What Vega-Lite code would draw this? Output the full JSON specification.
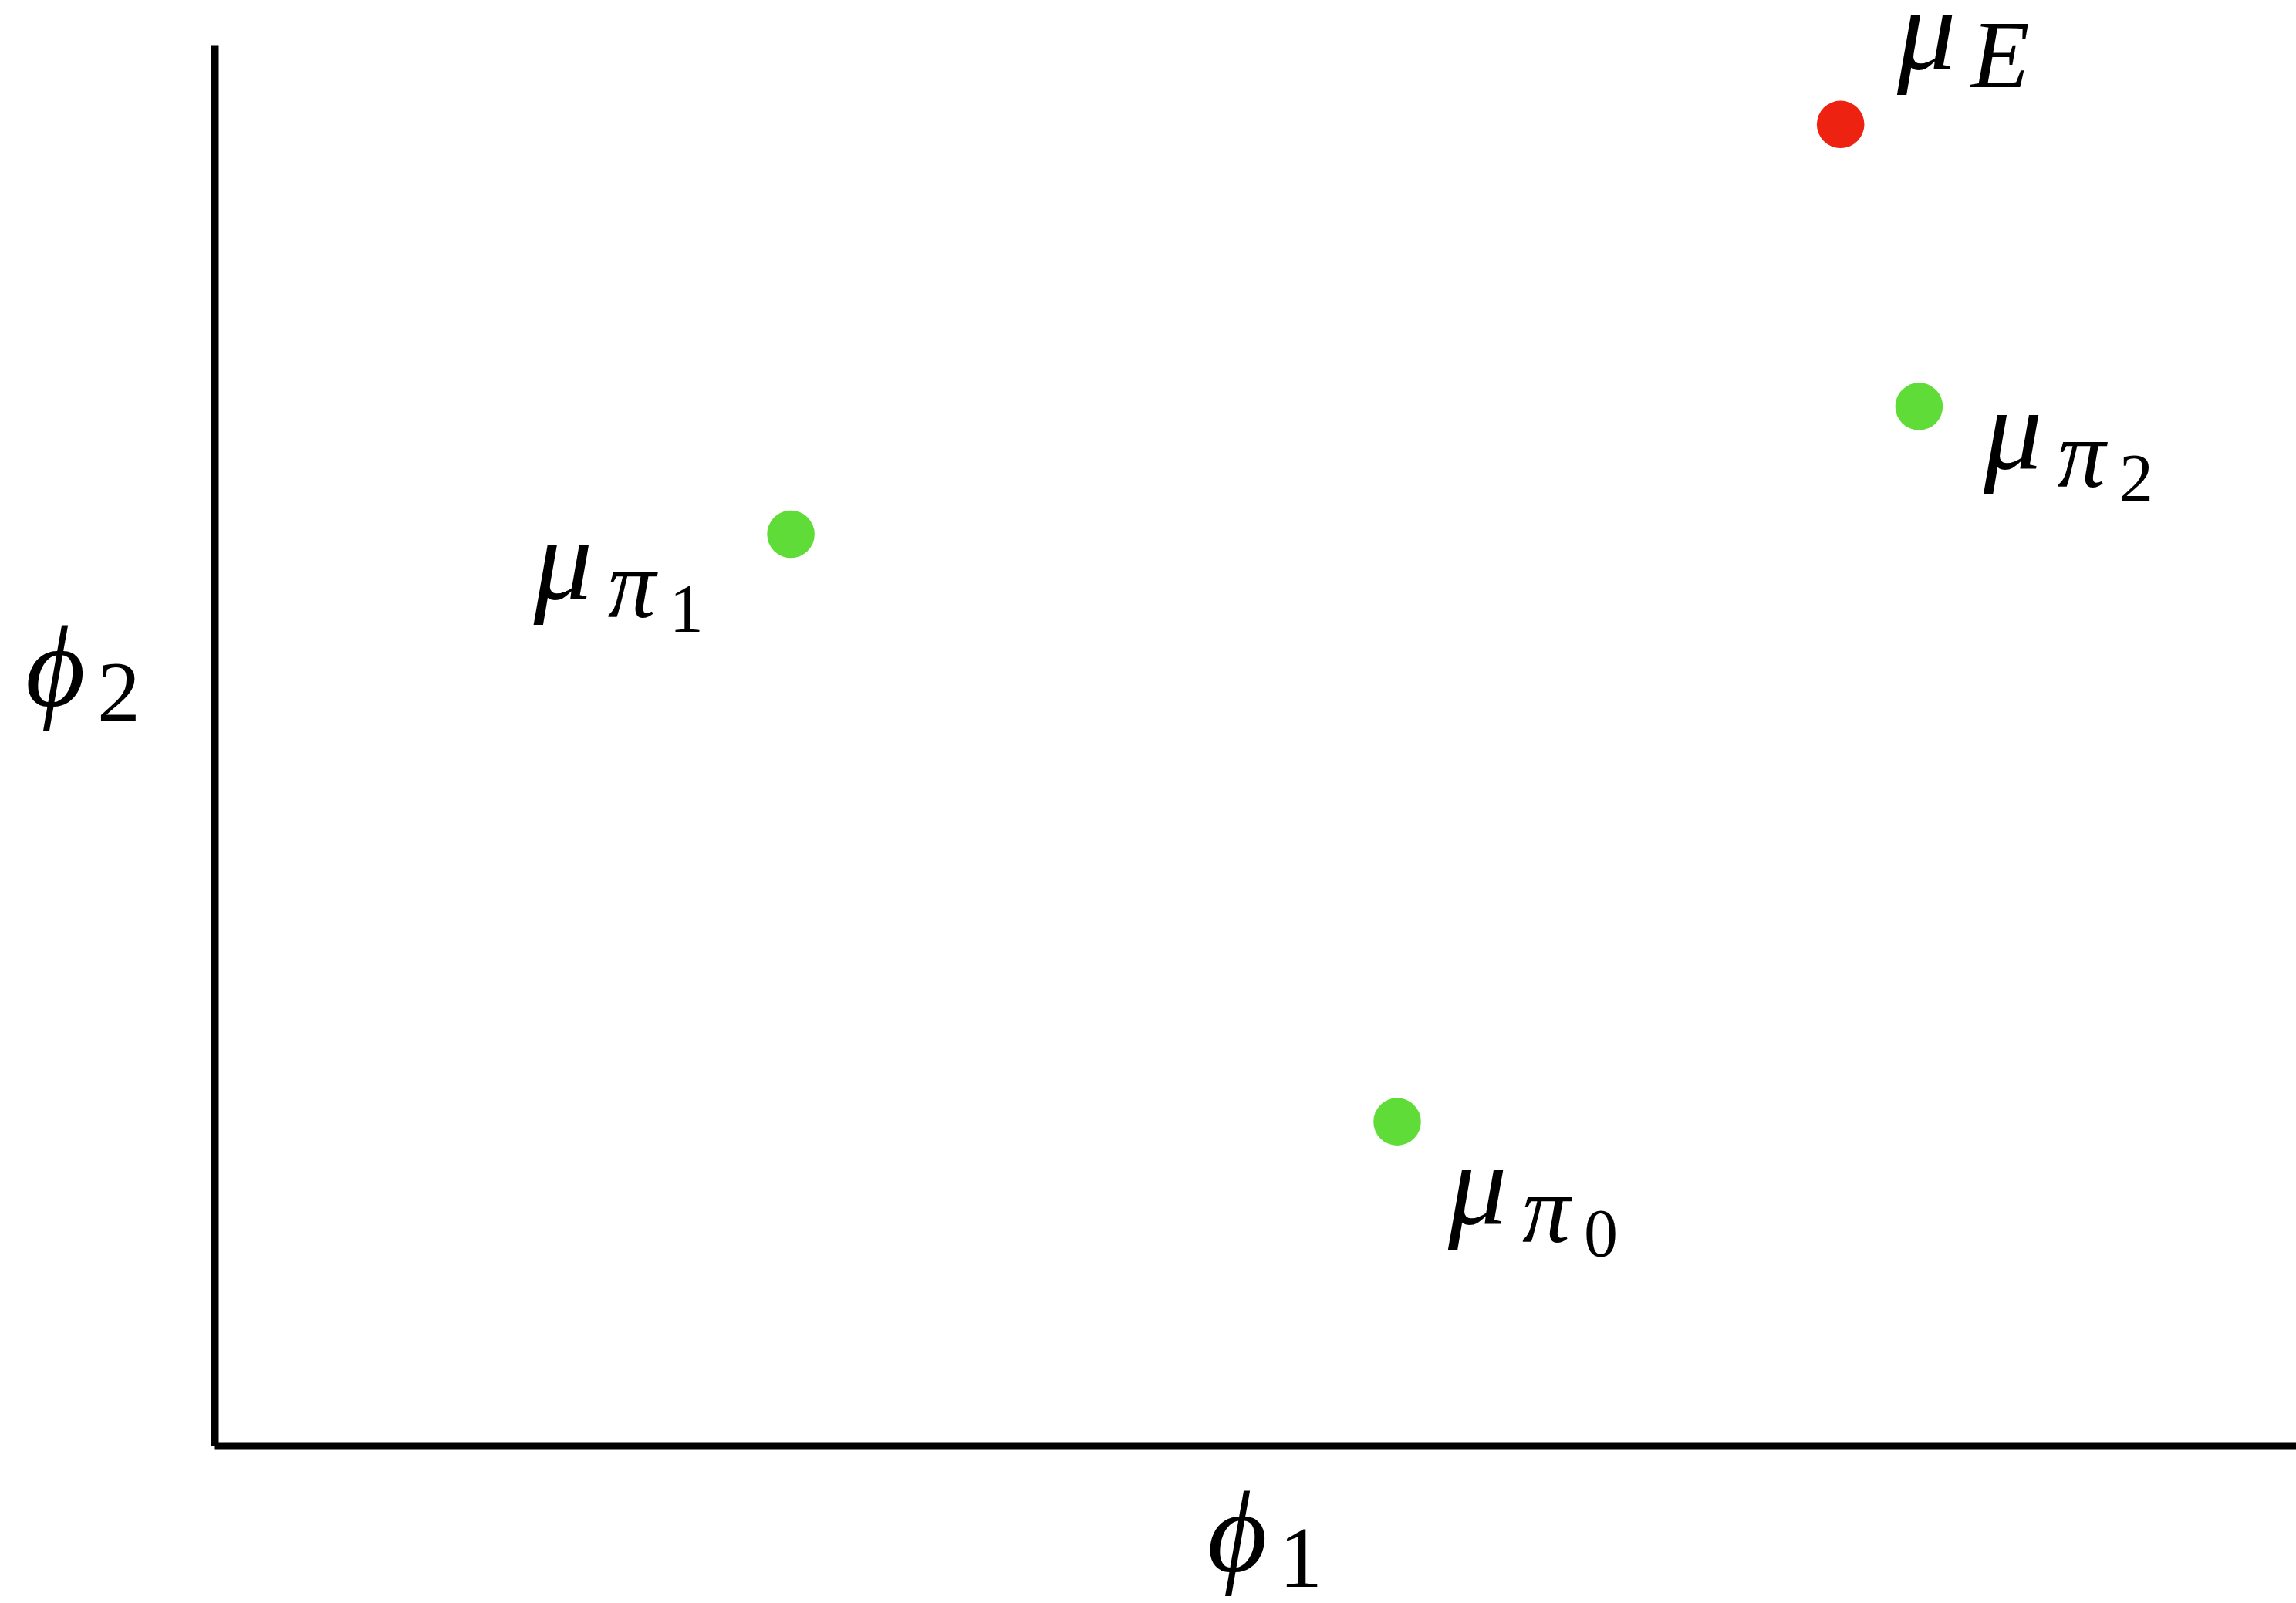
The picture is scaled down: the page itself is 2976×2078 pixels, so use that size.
{
  "$schema": "https://vega.github.io/schema/vega-lite/v6.json",
  "width": 2698,
  "height": 1816,
  "autosize": {"type": "none"},
  "padding": {"left": 278, "top": 58, "right": 0, "bottom": 204},
  "background": "white",
  "config": {"view": {"stroke": null}},
  "datasets": {
    "points": [
      {"name": "mu_E", "kind": "E", "phi1": 7.812, "phi2": 9.431, "lx": 8.084, "ly": 9.823, "main": "μ", "sub": "E", "subsub": ""},
      {"name": "mu_pi2", "kind": "pi", "phi1": 8.189, "phi2": 7.418, "lx": 8.499, "ly": 6.971, "main": "μ", "sub": "π", "subsub": "2"},
      {"name": "mu_pi1", "kind": "pi", "phi1": 2.769, "phi2": 6.506, "lx": 1.534, "ly": 6.041, "main": "μ", "sub": "π", "subsub": "1"},
      {"name": "mu_pi0", "kind": "pi", "phi1": 5.682, "phi2": 2.312, "lx": 5.927, "ly": 1.580, "main": "μ", "sub": "π", "subsub": "0"}
    ],
    "axislabels": [
      {"axis": "x", "lx": 4.770, "ly": -0.898, "main": "ϕ", "sub": "1"},
      {"axis": "y", "lx": -0.908, "ly": 5.281, "main": "ϕ", "sub": "2"}
    ]
  },
  "layer": [
    {
      "data": {"name": "points"},
      "mark": {"type": "circle", "size": 3790, "opacity": 1},
      "encoding": {
        "x": {"field": "phi1", "type": "quantitative", "scale": {"domain": [0, 10], "nice": false, "zero": false},
              "axis": {"domain": true, "domainColor": "black", "domainWidth": 10, "ticks": false, "labels": false, "grid": false, "title": null}},
        "y": {"field": "phi2", "type": "quantitative", "scale": {"domain": [0, 10], "nice": false, "zero": false},
              "axis": {"domain": true, "domainColor": "black", "domainWidth": 10, "ticks": false, "labels": false, "grid": false, "title": null}},
        "color": {"field": "kind", "type": "nominal", "scale": {"domain": ["E", "pi"], "range": ["#EE2211", "#5FDC38"]}, "legend": null}
      }
    },
    {
      "data": {"name": "points"},
      "mark": {"type": "text", "font": "Liberation Serif", "fontStyle": "italic", "fontSize": 152, "align": "left", "baseline": "alphabetic", "color": "black"},
      "encoding": {
        "x": {"field": "lx", "type": "quantitative"},
        "y": {"field": "ly", "type": "quantitative"},
        "text": {"field": "main"}
      }
    },
    {
      "data": {"name": "points"},
      "mark": {"type": "text", "font": "Liberation Serif", "fontStyle": "italic", "fontSize": 124, "align": "left", "baseline": "alphabetic", "color": "black", "dx": 96, "dy": 23},
      "encoding": {
        "x": {"field": "lx", "type": "quantitative"},
        "y": {"field": "ly", "type": "quantitative"},
        "text": {"field": "sub"}
      }
    },
    {
      "data": {"name": "points"},
      "mark": {"type": "text", "font": "Liberation Serif", "fontSize": 88, "align": "left", "baseline": "alphabetic", "color": "black", "dx": 176, "dy": 41},
      "encoding": {
        "x": {"field": "lx", "type": "quantitative"},
        "y": {"field": "ly", "type": "quantitative"},
        "text": {"field": "subsub"}
      }
    },
    {
      "data": {"name": "axislabels"},
      "mark": {"type": "text", "font": "Liberation Serif", "fontStyle": "italic", "fontSize": 150, "align": "left", "baseline": "alphabetic", "color": "black"},
      "encoding": {
        "x": {"field": "lx", "type": "quantitative"},
        "y": {"field": "ly", "type": "quantitative"},
        "text": {"field": "main"}
      }
    },
    {
      "data": {"name": "axislabels"},
      "mark": {"type": "text", "font": "Liberation Serif", "fontSize": 112, "align": "left", "baseline": "alphabetic", "color": "black", "dx": 93, "dy": 20},
      "encoding": {
        "x": {"field": "lx", "type": "quantitative"},
        "y": {"field": "ly", "type": "quantitative"},
        "text": {"field": "sub"}
      }
    }
  ]
}
